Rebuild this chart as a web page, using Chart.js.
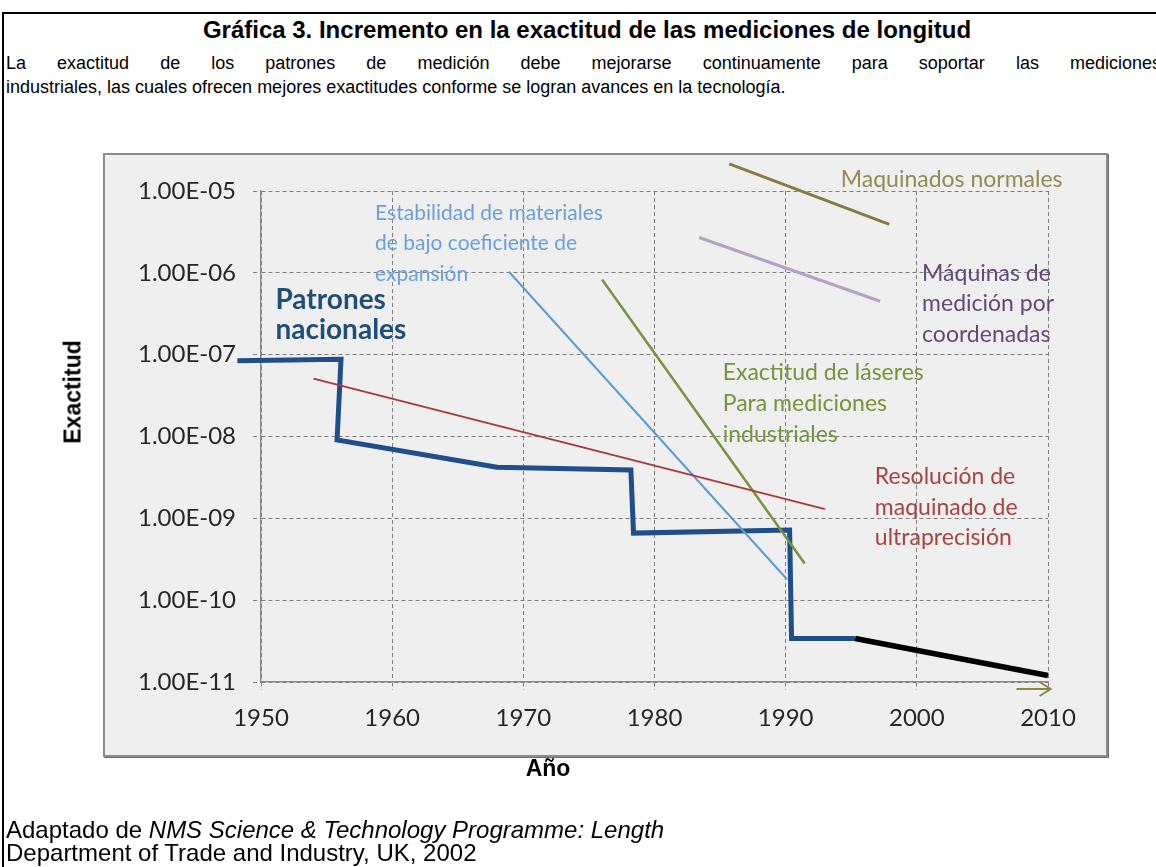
<!DOCTYPE html>
<html>
<head>
<meta charset="utf-8">
<script src="https://cdn.jsdelivr.net/npm/chart.js@4.4.1/dist/chart.umd.min.js"></script>
<style>
  html, body { margin: 0; padding: 0; }
  body { width: 1156px; height: 867px; overflow: hidden; background: #fff; position: relative;
         font-family: "Liberation Sans", Arial, sans-serif; color: #000; }
  #frame { position: absolute; left: 2px; top: 12px; width: 1300px; height: 1000px;
           border-left: 2px solid #000; border-top: 2px solid #000; }
  #title { position: absolute; left: 0; top: 16px; width: 1174px; text-align: center;
           font-weight: bold; font-size: 24px; line-height: 28px; white-space: nowrap; }
  .para { position: absolute; left: 6px; font-size: 18px; line-height: 24px; white-space: nowrap; }
  #p1 { top: 51px; width: 1155px; text-align: justify; text-align-last: justify; white-space: normal; }
  #p2 { top: 75px; }
  #box { position: absolute; left: 103px; top: 153px; width: 1005px; height: 604px; box-sizing: border-box;
         background: #efefef; border: 2px solid #8c8c8c; box-shadow: 1px 1px 0 #6e6e6e; }
  #chart { position: absolute; left: 0; top: 0; }
  #ytitle { position: absolute; left: 73px; top: 392px; transform: translate(-50%, -50%) rotate(-90deg);
            font-weight: bold; font-size: 23px; white-space: nowrap; }
  #xtitle { position: absolute; left: 548px; top: 768px; transform: translate(-50%, -50%);
            font-weight: bold; font-size: 23px; white-space: nowrap; }
  #foot { position: absolute; left: 6px; top: 818px; font-size: 24px; line-height: 23px; white-space: nowrap; }
</style>
</head>
<body>
<div id="frame"></div>
<div id="title">Gráfica 3. Incremento en la exactitud de las mediciones de longitud</div>
<div class="para" id="p1">La exactitud de los patrones de medición debe mejorarse continuamente para soportar las mediciones</div>
<div class="para" id="p2">industriales, las cuales ofrecen mejores exactitudes conforme se logran avances en la tecnología.</div>
<div id="box"></div>
<canvas id="chart" width="1156" height="867"></canvas>
<div id="ytitle">Exactitud</div>
<div id="xtitle">Año</div>
<div id="foot">Adaptado de <i>NMS Science &amp; Technology Programme: Length</i><br>Department of Trade and Industry, UK, 2002</div>

<script>
// ---------- data ----------
const years = [1950, 1960, 1970, 1980, 1990, 2000, 2010];
const yTickValues = [1e-11, 1e-10, 1e-9, 1e-8, 1e-7, 1e-6, 1e-5];
const yTickLabels = ['1.00E-11', '1.00E-10', '1.00E-09', '1.00E-08', '1.00E-07', '1.00E-06', '1.00E-05'];

const patronesYears  = [1948.2, 1956.1, 1955.8, 1968.0, 1978.2, 1978.4, 1990.3, 1990.45, 1995.3];
const patronesValues = [8.4e-8, 8.8e-8, 9.1e-9, 4.2e-9, 3.9e-9, 6.6e-10, 7.2e-10, 3.4e-11, 3.4e-11];

const proyeccionYears  = [1995.3, 2010.0];
const proyeccionValues = [3.4e-11, 1.2e-11];

const resolucionYears  = [1954.0, 1993.0];
const resolucionValues = [5.1e-8, 1.3e-9];

const estabilidadYears  = [1968.9, 1990.1];
const estabilidadValues = [1.03e-6, 1.8e-10];

const laserYears  = [1976.0, 1991.45];
const laserValues = [8.3e-7, 2.8e-10];

const maquinadosYears  = [1985.7, 1997.9];
const maquinadosValues = [2.14e-5, 3.9e-6];

const coordenadasYears  = [1983.4, 1997.2];
const coordenadasValues = [2.7e-6, 4.5e-7];

const noteTexts = [
  ['Patrones', 'nacionales'],
  ['Estabilidad de materiales', 'de bajo coeficiente de', 'expansión'],
  ['Maquinados normales'],
  ['Máquinas de', 'medición por', 'coordenadas'],
  ['Exactitud de láseres', 'Para mediciones', 'industriales'],
  ['Resolución de', 'maquinado de', 'ultraprecisión']
];
const noteYears  = [1951.1, 1958.7, 1994.2, 2000.4, 1985.2, 1996.8];
const noteValues = [4.7e-7, 5.4e-6, 1.39e-5, 9.9e-7, 6.0e-8, 3.2e-9];

const arrowYears = [2007.6, 2010.2];

// ---------- styles ----------
const noteStyles = [
  { color: '#1F4E79', font: 'bold 28px Lato', lh: 30 },
  { color: '#6A9FDA', font: '21px Lato', lh: 30.5 },
  { color: '#948A54', font: '23px Lato', lh: 30 },
  { color: '#604A7B', font: '23px Lato', lh: 30.5 },
  { color: '#77933C', font: '23px Lato', lh: 31 },
  { color: '#A84343', font: '23px Lato', lh: 30.3 }
];

function pts(xs, ys) { return xs.map((x, i) => ({ x: x, y: ys[i] })); }

function ds(xs, ys, color, width) {
  return { data: pts(xs, ys), borderColor: color, borderWidth: width, pointRadius: 0,
           fill: false, tension: 0, clip: false, borderJoinStyle: 'miter', borderCapStyle: 'butt' };
}

const notesPlugin = {
  id: 'notes',
  afterDatasetsDraw(chart) {
    const ctx = chart.ctx, xs = chart.scales.x, ys = chart.scales.y;
    ctx.save();
    ctx.textAlign = 'left';
    ctx.textBaseline = 'middle';
    noteTexts.forEach((lines, i) => {
      const st = noteStyles[i];
      const px = xs.getPixelForValue(noteYears[i]);
      const py = ys.getPixelForValue(noteValues[i]);
      ctx.fillStyle = st.color;
      ctx.font = st.font;
      lines.forEach((t, j) => ctx.fillText(t, px, py + j * st.lh));
    });
    // arrow below the x axis at the end of the series
    const x0 = xs.getPixelForValue(arrowYears[0]);
    const x1 = xs.getPixelForValue(arrowYears[1]);
    const y = chart.chartArea.bottom + 7;
    ctx.strokeStyle = '#8C8848';
    ctx.lineWidth = 2;
    ctx.beginPath();
    ctx.moveTo(x0, y); ctx.lineTo(x1, y);
    ctx.moveTo(x1 - 11, y - 7); ctx.lineTo(x1, y); ctx.lineTo(x1 - 11, y + 7);
    ctx.stroke();
    ctx.restore();
  }
};

const gridColor = '#7d7d7d';

new Chart(document.getElementById('chart'), {
  type: 'line',
  data: {
    datasets: [
      ds(resolucionYears, resolucionValues, '#A83A3A', 1.8),
      ds(estabilidadYears, estabilidadValues, '#5B9BD5', 2),
      ds(laserYears, laserValues, '#77933C', 2.5),
      ds(maquinadosYears, maquinadosValues, '#857C3F', 3),
      ds(coordenadasYears, coordenadasValues, '#B3A2C7', 3),
      ds(proyeccionYears, proyeccionValues, '#000000', 5.5),
      ds(patronesYears, patronesValues, '#1F4E8A', 5)
    ]
  },
  options: {
    responsive: false,
    animation: false,
    devicePixelRatio: 1,
    layout: { padding: { left: 0, top: 191, right: 108, bottom: 0 } },
    plugins: { legend: { display: false }, tooltip: { enabled: false }, title: { display: false } },
    scales: {
      x: {
        type: 'linear', min: 1950, max: 2010,
        afterBuildTicks: s => { s.ticks = years.map(v => ({ value: v })); },
        afterFit: s => { s.height = 185; },
        ticks: { font: { family: 'Lato', size: 24 }, color: '#262626', padding: 14, maxRotation: 0,
                 autoSkip: false, callback: v => String(v) },
        grid: { color: gridColor, lineWidth: 1, tickLength: 8, tickColor: gridColor, tickBorderDash: [4, 3] },
        border: { display: true, color: '#8a8a8a', width: 1.5, dash: [4, 3] }
      },
      y: {
        type: 'logarithmic', min: 1e-11, max: 1e-5,
        afterBuildTicks: s => { s.ticks = yTickValues.map(v => ({ value: v })); },
        afterFit: s => { s.width = 261; },
        ticks: { font: { family: 'Lato', size: 24 }, color: '#262626', padding: 17, autoSkip: false,
                 callback: (v, i) => yTickLabels[i] },
        grid: { color: gridColor, lineWidth: 1, tickLength: 8, tickColor: gridColor, tickBorderDash: [4, 3] },
        border: { display: true, color: '#8a8a8a', width: 1.5, dash: [4, 3] }
      }
    }
  },
  plugins: [notesPlugin]
});
</script>
</body>
</html>
